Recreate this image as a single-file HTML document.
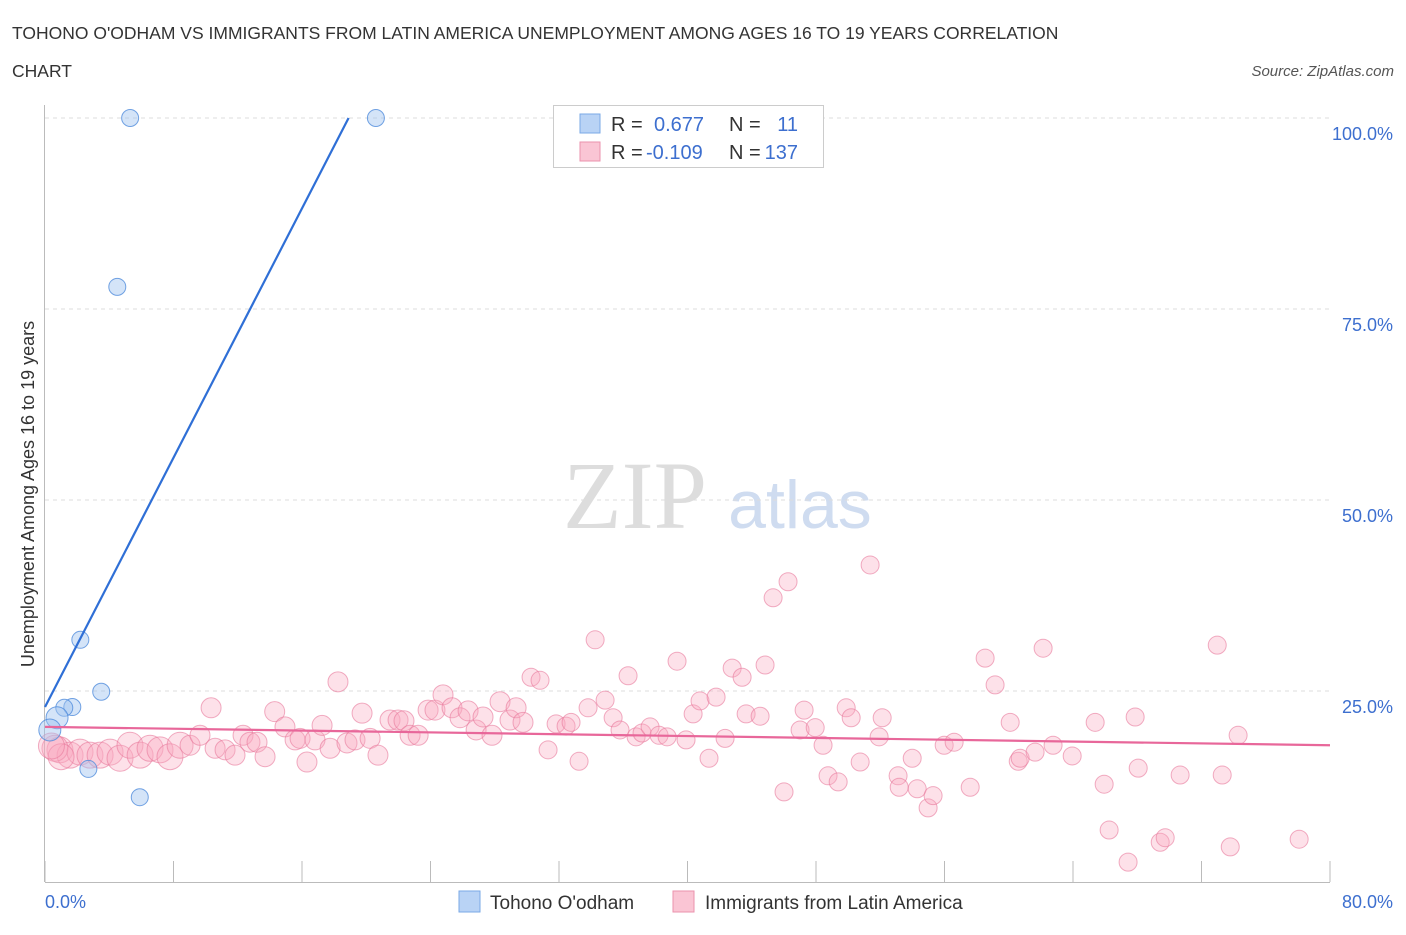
<!DOCTYPE html>
<html><head><meta charset="utf-8"><style>
body{margin:0;background:#fff;font-family:"Liberation Sans",sans-serif}
svg text{font-family:"Liberation Sans",sans-serif}
</style></head><body>
<svg id="c" width="1406" height="930">
<text x="12" y="39" font-size="17.5" fill="#333">TOHONO O'ODHAM VS IMMIGRANTS FROM LATIN AMERICA UNEMPLOYMENT AMONG AGES 16 TO 19 YEARS CORRELATION</text>
<text x="12" y="77" font-size="17.5" fill="#333">CHART</text>
<text x="1394" y="76" font-size="15" fill="#555" font-style="italic" text-anchor="end">Source: ZipAtlas.com</text>
<text x="34" y="494" font-size="18" fill="#333" text-anchor="middle" transform="rotate(-90 34 494)">Unemployment Among Ages 16 to 19 years</text>
<text x="635" y="528" font-size="96" fill="#ddd" font-family="Liberation Serif" text-anchor="middle" style="font-family:'Liberation Serif',serif">ZIP</text>
<text x="800" y="528" font-size="68" fill="#cfdcf0" text-anchor="middle">atlas</text>
<g id="grid"></g><g id="pts"></g><g id="lines"></g>
<g>
<rect x="553.5" y="105.5" width="270" height="62" fill="#fff" stroke="#ccc"/>
<rect x="580" y="114" width="20" height="19" fill="#b9d3f5" stroke="#7aa8e6"/>
<rect x="580" y="142" width="20" height="19" fill="#fac5d4" stroke="#eb92ad"/>
<text x="611" y="131" font-size="20" fill="#333">R =</text><text x="654" y="131" font-size="20" fill="#3d6fcf">0.677</text>
<text x="729" y="131" font-size="20" fill="#333">N =</text><text x="798" y="131" font-size="20" fill="#3d6fcf" text-anchor="end">11</text>
<text x="611" y="159" font-size="20" fill="#333">R =</text><text x="646" y="159" font-size="20" fill="#3d6fcf">-0.109</text>
<text x="729" y="159" font-size="20" fill="#333">N =</text><text x="798" y="159" font-size="20" fill="#3d6fcf" text-anchor="end">137</text>
</g>
<g>
<rect x="459" y="891" width="21" height="21" fill="#b9d3f5" stroke="#7aa8e6"/>
<text x="490" y="909" font-size="19" fill="#333">Tohono O'odham</text>
<rect x="673" y="891" width="21" height="21" fill="#fac5d4" stroke="#eb92ad"/>
<text x="705" y="909" font-size="19" fill="#333">Immigrants from Latin America</text>
</g>
</svg>
<script>
const xTicks=[0,8,16,24,32,40,48,56,64,72,80];
const yTicks=[25,50,75,100];
const blueX=[5.3,20.6,4.5,2.2,3.5,1.7,1.2,0.75,0.3,2.7,5.9];
const blueY=[100,100,77.9,31.7,24.9,22.9,22.8,21.5,19.9,14.8,11.1];
const pinkX=[0.93,1.56,0.62,2.18,2.8,3.43,4.05,4.67,5.29,5.92,6.54,7.16,7.78,8.41,9.03,9.65,10.34,10.59,11.21,11.83,12.33,12.76,13.2,13.7,14.3,14.94,15.57,15.88,16.31,16.81,17.25,17.75,18.24,18.8,19.3,19.74,20.24,20.73,21.48,21.98,22.35,22.73,23.23,23.85,24.28,24.78,25.34,25.84,26.34,26.84,27.27,27.83,28.33,28.95,29.33,29.76,30.26,30.82,31.32,31.82,32.44,32.75,33.25,33.81,34.25,34.87,35.37,35.8,36.3,36.8,37.17,37.67,38.23,38.73,39.35,39.91,40.35,40.78,41.34,41.78,42.34,42.78,43.4,43.65,44.52,44.83,45.33,46.01,46.26,47.01,47.26,47.95,48.44,48.75,49.38,49.88,50.19,50.75,51.37,51.93,52.12,53.11,53.18,53.99,54.3,54.98,55.29,55.98,56.6,57.6,58.53,59.15,60.09,60.59,60.71,61.64,62.14,62.76,63.95,65.38,65.94,66.25,67.43,67.87,68.06,69.43,69.74,70.67,72.98,73.29,73.79,74.28,78.08,1.0,0.4];
const pinkY=[17.3,16.6,17.5,17.0,16.6,16.6,17.0,16.2,17.9,16.6,17.5,17.3,16.4,17.9,17.9,19.2,22.8,17.5,17.3,16.6,19.2,18.3,18.3,16.4,22.3,20.3,18.6,18.8,15.7,18.6,20.5,17.5,26.2,18.2,18.6,22.1,18.8,16.6,21.2,21.2,21.1,19.2,19.2,22.5,22.5,24.5,22.8,21.5,22.4,19.9,21.6,19.2,23.6,21.2,22.8,20.9,26.8,26.4,17.3,20.7,20.4,20.9,15.8,22.8,31.7,23.8,21.5,19.9,27.0,19.0,19.5,20.3,19.2,19.0,28.9,18.6,22.0,23.7,16.2,24.2,18.8,28.0,26.8,22.0,21.7,28.4,37.2,11.8,39.3,19.9,22.5,20.2,17.9,13.9,13.1,22.8,21.5,15.7,41.5,19.0,21.5,13.9,12.4,16.2,12.2,9.7,11.3,17.9,18.3,12.4,29.3,25.8,20.9,15.8,16.2,17.0,30.6,17.9,16.5,20.9,12.8,6.8,2.6,21.6,14.9,5.2,5.8,14.0,31.0,14.0,4.6,19.2,5.6,16.4,17.8];
const blueFit=[22.9,-0.109*0+100];
const X=v=>45+v/80*1285, Y=v=>882-v/100*764;
const NS="http://www.w3.org/2000/svg";
function mk(t,a,p){const e=document.createElementNS(NS,t);for(const k in a)e.setAttribute(k,a[k]);p.appendChild(e);return e;}
const g=document.getElementById('grid');
yTicks.forEach(t=>{const l=mk('line',{x1:45,x2:1330,y1:Y(t),y2:Y(t),stroke:'#ddd','stroke-dasharray':'4,4'},g);


const tx=mk('text',{x:1393,y:Y(t)+22,'font-size':18,fill:'#3d6fcf','text-anchor':'end'},g);tx.textContent=t.toFixed(1)+'%';

});
const ax=mk('line',{x1:45,x2:1330,y1:882.5,y2:882.5,stroke:'#bbb'},g);


const ay=mk('line',{x1:44.5,x2:44.5,y1:105,y2:882,stroke:'#bbb'},g);


xTicks.forEach(t=>{const l=mk('line',{x1:X(t),x2:X(t),y1:882,y2:861,stroke:'#bbb'},g);

});
[[0,'start',45],[80,'end',1393]].forEach(([v,a,x])=>{const tx=mk('text',{x:x,y:908,'font-size':18,fill:'#3d6fcf','text-anchor':a},g);tx.textContent=v.toFixed(1)+'%';

});
const p=document.getElementById('pts');
pinkX.forEach((x,i)=>{const r=x<9?13:x<30?10:9;const c=mk('circle',{cx:X(x),cy:Y(pinkY[i]),r:r,fill:'rgba(248,170,192,0.35)',stroke:'rgba(232,120,155,0.6)','stroke-width':1},p);

});
blueX.forEach((x,i)=>{const r=x<1?11:8.5;const c=mk('circle',{cx:X(x),cy:Y(blueY[i]),r:r,fill:'rgba(160,195,240,0.45)',stroke:'rgba(80,140,220,0.8)','stroke-width':1},p);

});
const L=document.getElementById('lines');
const bl=mk('line',{x1:X(0),y1:Y(22.9),x2:X(18.9),y2:Y(100),stroke:'#2f6fd6','stroke-width':2.2},L);


const pl=mk('line',{x1:X(0),y1:Y(20.3),x2:X(80),y2:Y(17.9),stroke:'#e8679a','stroke-width':2.2},L);


</script>
</body></html>
